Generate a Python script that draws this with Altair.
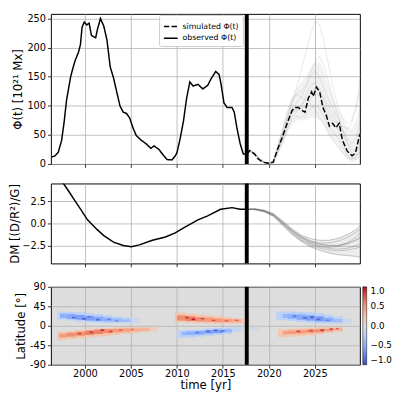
import altair as alt
import pandas as pd

# ---------------- data ----------------
years_ticks = [2000, 2005, 2010, 2015, 2020, 2025]
cut_year = [2017.6]

phi_obs_t = [1996.40, 1996.75, 1997.10, 1997.46, 1997.74, 1997.99, 1998.17, 1998.45, 1998.70, 1998.94,
             1999.30, 1999.51, 1999.69, 1999.93, 2000.21, 2000.46, 2000.71, 2001.17, 2001.34, 2001.69,
             2002.05, 2002.40, 2002.75, 2003.11, 2003.46, 2003.81, 2004.17, 2004.52, 2004.87, 2005.23,
             2005.58, 2006.11, 2006.64, 2007.17, 2007.52, 2008.05, 2008.58, 2008.94, 2009.47, 2009.82,
             2010.00, 2010.35, 2010.71, 2011.06, 2011.41, 2011.77, 2012.29, 2012.82, 2013.35, 2013.70,
             2014.23, 2014.59, 2014.83, 2015.12, 2015.47, 2016.00, 2016.24, 2016.53, 2016.88, 2017.23,
             2017.60]
phi_obs_v = [12, 14, 20, 40, 72, 108, 125, 150, 165, 178,
             192, 205, 235, 244, 239, 242, 221, 217, 230, 250,
             237, 213, 167, 148, 124, 100, 89, 87, 79, 62,
             49, 41, 35, 27, 31, 25, 14, 7.5, 7, 14,
             19, 43, 73, 113, 141, 134, 137, 129, 135, 146,
             159, 154, 135, 105, 97, 97, 89, 62, 35, 17,
             17]

phi_sim_t = [2017.60, 2017.93, 2018.46, 2018.82, 2019.35, 2020.05, 2020.48, 2020.94, 2021.47, 2022.00,
             2022.53, 2022.88, 2023.23, 2023.59, 2023.94, 2024.29, 2024.65, 2024.82, 2025.18, 2025.53,
             2025.88, 2026.24, 2026.59, 2026.94, 2027.30, 2027.65, 2028.00, 2028.53, 2029.06, 2029.42,
             2029.90]
phi_sim_v = [17, 23, 17, 9, 3, 1, 3, 25, 46, 70,
             92, 97, 97, 92, 89, 113, 124, 116, 132, 124,
             97, 84, 65, 70, 62, 70, 41, 22, 14, 19,
             52]

ens_t = [2017.6, 2018.0, 2018.5, 2019.0, 2019.5, 2020.0, 2020.5, 2021.0, 2021.5, 2022.0,
         2022.5, 2023.0, 2023.5, 2024.0, 2024.5, 2025.0, 2025.5, 2026.0, 2026.5, 2027.0,
         2027.5, 2028.0, 2028.5, 2029.0, 2029.5, 2030.0]
phi_ens = {
    "m1": [17, 22, 17, 8, 3, 1, 5, 30, 55, 80, 105, 120, 125, 135, 150, 160, 150, 130, 110, 95, 80, 60, 40, 25, 20, 30],
    "m2": [17, 21, 15, 7, 2, 1, 2, 20, 38, 58, 75, 82, 80, 85, 95, 100, 95, 80, 65, 55, 45, 30, 15, 8, 10, 25],
    "m3": [17, 23, 18, 9, 3, 1, 4, 27, 50, 75, 95, 105, 115, 130, 155, 175, 185, 170, 140, 110, 85, 60, 45, 35, 45, 80],
    "m4": [17, 22, 16, 8, 3, 1, 6, 32, 60, 90, 110, 120, 115, 110, 105, 95, 80, 70, 55, 40, 30, 20, 12, 8, 15, 40],
    "m5": [17, 23, 17, 9, 3, 1, 4, 28, 50, 78, 105, 130, 160, 190, 220, 245, 240, 210, 170, 130, 100, 80, 70, 75, 95, 130],
    "m6": [17, 22, 16, 8, 2, 1, 3, 24, 44, 66, 88, 95, 100, 110, 120, 130, 125, 110, 90, 75, 70, 55, 35, 20, 15, 20],
    "m7": [17, 23, 17, 8, 3, 1, 3, 22, 42, 62, 80, 90, 98, 115, 135, 140, 130, 115, 100, 85, 70, 65, 60, 70, 100, 150],
    "m8": [17, 22, 17, 9, 3, 1, 4, 26, 48, 72, 90, 92, 95, 100, 112, 120, 118, 100, 80, 68, 60, 45, 25, 12, 8, 15],
}
phi_band_lo = [17, 20, 14, 6, 1, 0, 1, 15, 32, 52, 68, 75, 75, 75, 80, 80, 75, 65, 50, 40, 30, 18, 8, 3, 5, 15]
phi_band_hi = [17, 25, 20, 11, 5, 2, 8, 36, 62, 92, 115, 130, 140, 150, 165, 175, 175, 160, 135, 115, 95, 80, 65, 60, 75, 110]

dm_obs_t = [1996.4, 1997.0, 1997.6, 1998.17, 1998.87, 1999.58, 2000.28, 2001.34, 2002.05, 2003.11,
            2004.17, 2005.05, 2005.93, 2007.34, 2008.76, 2009.82, 2010.88, 2012.29, 2013.35, 2014.76,
            2016.0, 2016.88, 2017.6]
dm_obs_v = [6.6, 5.6, 4.6, 3.74, 2.63, 1.52, 0.41, -0.70, -1.37, -2.11,
            -2.48, -2.63, -2.41, -1.89, -1.52, -1.07, -0.41, 0.41, 0.85, 1.59,
            1.78, 1.59, 1.59]

dm_ens_t = [2017.6, 2018.5, 2019.5, 2020.5, 2021.5, 2022.5, 2023.5, 2024.5, 2025.5, 2026.5, 2027.5, 2028.5, 2029.5, 2030.0]
dm_ens = {
    "d0": [1.59, 1.6, 1.4, 0.95, 0.1, -0.8, -1.6, -2.1, -2.35, -2.45, -2.48, -2.26, -1.8, -1.5],
    "d1": [1.59, 1.65, 1.5, 1.1, 0.3, -0.6, -1.3, -1.7, -1.9, -1.9, -1.7, -1.3, -0.7, -0.2],
    "d2": [1.59, 1.55, 1.3, 0.8, -0.2, -1.2, -2.0, -2.6, -3.0, -3.3, -3.5, -3.6, -3.7, -3.8],
    "d3": [1.59, 1.62, 1.45, 1.0, 0.1, -0.8, -1.5, -2.0, -2.2, -2.2, -2.0, -1.6, -1.0, -0.6],
    "d4": [1.59, 1.57, 1.35, 0.9, -0.05, -1.0, -1.8, -2.3, -2.6, -2.8, -2.9, -2.8, -2.5, -2.3],
    "d5": [1.59, 1.6, 1.42, 0.97, 0.0, -0.9, -1.6, -2.2, -2.5, -2.7, -2.6, -2.3, -1.9, -1.6],
    "d6": [1.59, 1.63, 1.48, 1.05, 0.2, -0.7, -1.45, -1.95, -2.3, -2.5, -2.5, -2.2, -1.5, -1.0],
    "d7": [1.59, 1.56, 1.32, 0.85, -0.1, -1.1, -1.9, -2.45, -2.75, -3.0, -3.1, -3.0, -2.8, -2.6],
}
dm_band_lo = [1.59, 1.5, 1.25, 0.75, -0.3, -1.3, -2.1, -2.7, -3.1, -3.4, -3.6, -3.7, -3.8, -3.9]
dm_band_hi = [1.59, 1.7, 1.55, 1.15, 0.35, -0.55, -1.25, -1.65, -1.85, -1.85, -1.6, -1.2, -0.6, -0.1]

# butterfly diagram cells: [t_start, t_end, lat_low, lat_high, value]
halo_cells = [
    # cycle 23, north (negative)
    [1997.0, 1998.0, 14, 33, -0.22], [1998.0, 1999.0, 12, 32, -0.25], [1999.0, 2000.0, 10, 31, -0.25],
    [2000.0, 2001.0, 8, 29, -0.25], [2001.0, 2002.0, 7, 27, -0.25], [2002.0, 2003.0, 6, 25, -0.22],
    [2003.0, 2004.0, 6, 22, -0.2], [2004.0, 2005.0, 6, 20, -0.18], [2005.0, 2006.0, 6, 18, -0.12],
    # cycle 23, south (positive)
    [1997.0, 1998.0, -33, -14, 0.22], [1998.0, 1999.0, -31, -12, 0.25], [1999.0, 2000.0, -29, -10, 0.25],
    [2000.0, 2001.0, -27, -8, 0.25], [2001.0, 2002.0, -25, -6, 0.25], [2002.0, 2003.0, -23, -5, 0.25],
    [2003.0, 2004.0, -21, -4, 0.24], [2004.0, 2005.0, -19, -3, 0.22], [2005.0, 2006.0, -17, -3, 0.2],
    [2006.0, 2007.0, -15, -3, 0.18], [2007.0, 2008.0, -13, -3, 0.15],
    # cycle 24, north (positive)
    [2009.8, 2011.0, 8, 30, 0.24], [2011.0, 2012.0, 7, 28, 0.25], [2012.0, 2013.0, 6, 26, 0.25],
    [2013.0, 2014.0, 5, 24, 0.25], [2014.0, 2015.0, 5, 22, 0.24], [2015.0, 2016.0, 5, 20, 0.22],
    [2016.0, 2017.0, 5, 18, 0.2], [2017.0, 2018.0, 4, 16, 0.15],
    # cycle 24, south (negative)
    [2010.0, 2011.0, -28, -10, -0.22], [2011.0, 2012.0, -27, -9, -0.25], [2012.0, 2013.0, -25, -8, -0.25],
    [2013.0, 2014.0, -23, -6, -0.25], [2014.0, 2015.0, -21, -5, -0.25], [2015.0, 2016.0, -19, -4, -0.22],
    [2016.0, 2017.0, -15, -3, -0.15], [2017.0, 2019.0, -10, -2, -0.1],
    # cycle 25, north (negative)
    [2020.8, 2022.0, 13, 33, -0.22], [2022.0, 2023.0, 11, 33, -0.25], [2023.0, 2024.0, 9, 32, -0.25],
    [2024.0, 2025.0, 7, 31, -0.25], [2025.0, 2026.0, 6, 29, -0.25], [2026.0, 2027.0, 5, 26, -0.22],
    [2027.0, 2028.0, 5, 22, -0.18], [2028.0, 2029.0, 5, 17, -0.12],
    # cycle 25, south (positive)
    [2021.0, 2022.0, -26, -8, 0.22], [2022.0, 2023.0, -25, -7, 0.25], [2023.0, 2024.0, -24, -6, 0.25],
    [2024.0, 2025.0, -22, -5, 0.25], [2025.0, 2026.0, -20, -4, 0.25], [2026.0, 2027.0, -17, -3, 0.22],
    [2027.0, 2028.0, -14, -3, 0.18],
]
core_cells = [
    [1997.3, 1998.0, 18, 28, -0.5], [1998.0, 1999.0, 16, 27, -0.55], [1999.0, 2000.0, 14, 25, -0.6],
    [2000.0, 2001.0, 12, 23, -0.6], [2001.0, 2002.0, 11, 21, -0.55], [2002.0, 2003.0, 10, 19, -0.5],
    [2003.0, 2004.0, 9, 17, -0.45], [2004.0, 2005.0, 9, 15, -0.4],
    [1997.2, 1998.0, -27, -18, 0.5], [1998.0, 1999.0, -25, -16, 0.55], [1999.0, 2000.0, -23, -14, 0.55],
    [2000.0, 2001.0, -21, -11, 0.6], [2001.0, 2002.0, -19, -9, 0.6], [2002.0, 2003.0, -17, -8, 0.55],
    [2003.0, 2004.0, -15, -7, 0.5], [2004.0, 2005.0, -14, -6, 0.45], [2005.0, 2006.0, -13, -6, 0.4],
    [2006.0, 2007.0, -12, -5, 0.35],
    [2010.0, 2011.0, 12, 24, 0.55], [2011.0, 2012.0, 11, 22, 0.6], [2012.0, 2013.0, 10, 20, 0.55],
    [2013.0, 2014.0, 9, 19, 0.5], [2014.0, 2015.0, 8, 17, 0.5], [2015.0, 2016.0, 8, 16, 0.45],
    [2016.0, 2017.0, 8, 15, 0.4],
    [2010.5, 2011.0, -22, -14, -0.45], [2011.0, 2012.0, -21, -13, -0.5], [2012.0, 2013.0, -20, -12, -0.55],
    [2013.0, 2014.0, -18, -10, -0.6], [2014.0, 2015.0, -17, -9, -0.6], [2015.0, 2016.0, -15, -8, -0.45],
    [2021.5, 2022.0, 18, 27, -0.45], [2022.0, 2023.0, 16, 27, -0.5], [2023.0, 2024.0, 14, 26, -0.55],
    [2024.0, 2025.0, 12, 24, -0.6], [2025.0, 2026.0, 10, 22, -0.6], [2026.0, 2027.0, 9, 19, -0.5],
    [2027.0, 2028.0, 8, 16, -0.4],
    [2021.5, 2022.0, -20, -12, 0.45], [2022.0, 2023.0, -19, -11, 0.5], [2023.0, 2024.0, -18, -10, 0.5],
    [2024.0, 2025.0, -16, -9, 0.55], [2025.0, 2026.0, -15, -8, 0.55], [2026.0, 2027.0, -13, -7, 0.5],
    [2027.0, 2028.0, -11, -6, 0.4],
]
spot_cells = [
    [1998.6, 1999.0, 17, 21, -0.85], [1999.7, 2000.1, 14, 18, -0.9], [2000.3, 2000.6, 19, 23, -0.8],
    [2001.2, 2001.6, 12, 16, -0.85], [2002.4, 2002.8, 13, 16, -0.75], [2003.3, 2003.6, 10, 13, -0.7],
    [1999.2, 1999.6, -20, -16, 0.8], [2000.5, 2000.9, -17, -13, 0.85], [2001.7, 2002.1, -12, -8, 0.9],
    [2002.6, 2003.0, -15, -11, 0.8], [2003.7, 2004.1, -11, -8, 0.75], [2005.0, 2005.3, -10, -7, 0.7],
    [2010.9, 2011.3, 17, 21, 0.85], [2011.6, 2012.0, 13, 17, 0.95], [2012.6, 2013.0, 15, 18, 0.8],
    [2013.8, 2014.2, 11, 14, 0.8], [2015.2, 2015.6, 10, 13, 0.75], [2016.3, 2016.7, 11, 14, 0.7],
    [2012.0, 2012.4, -18, -14, -0.75], [2013.2, 2013.6, -15, -11, -0.85], [2014.0, 2014.4, -12, -9, -0.95],
    [2014.8, 2015.2, -14, -10, -0.8],
    [2022.6, 2023.0, 20, 24, -0.8], [2023.7, 2024.1, 16, 20, -0.85], [2024.5, 2024.9, 18, 22, -0.9],
    [2025.2, 2025.6, 13, 17, -0.85], [2026.2, 2026.6, 11, 14, -0.75],
    [2023.0, 2023.4, -15, -11, 0.8], [2024.4, 2024.8, -13, -9, 0.8], [2025.6, 2026.0, -12, -8, 0.85],
    [2026.6, 2027.0, -9, -6, 0.85], [2027.3, 2027.6, -8, -5, 0.75],
]

cw_domain = [-1, -0.75, -0.5, -0.25, 0, 0.25, 0.5, 0.75, 1]
cw_colors = ["#3b4cc0", "#6282ea", "#8db0fe", "#b9d0f9", "#dddddd", "#f5c4ac", "#f49a7b", "#dc5d4a", "#b40426"]
cbar_ticks = [-1.0, -0.5, 0.0, 0.5, 1.0]
lat_ticks = [-90, -45, 0, 45, 90]
phi_ticks = [0, 50, 100, 150, 200, 250]
dm_ticks = [-2.5, 0.0, 2.5]

# ---------------- frames ----------------
phi_obs_df = pd.DataFrame({"t": phi_obs_t, "v": phi_obs_v, "kind": "observed Φ(t)"})
phi_sim_df = pd.DataFrame({"t": phi_sim_t, "v": phi_sim_v, "kind": "simulated Φ(t)"})
phi_ens_df = pd.concat([pd.DataFrame({"t": ens_t, "v": vals, "m": k}) for k, vals in phi_ens.items()])
phi_band_df = pd.DataFrame({"t": ens_t, "lo": phi_band_lo, "hi": phi_band_hi})
dm_obs_df = pd.DataFrame({"t": dm_obs_t, "v": dm_obs_v})
dm_ens_df = pd.concat([pd.DataFrame({"t": dm_ens_t, "v": vals, "m": k}) for k, vals in dm_ens.items()])
dm_band_df = pd.DataFrame({"t": dm_ens_t, "lo": dm_band_lo, "hi": dm_band_hi})
cols = ["t0", "t1", "l0", "l1", "v"]
halo_df = pd.DataFrame(halo_cells, columns=cols)
core_df = pd.DataFrame(core_cells, columns=cols)
spot_df = pd.DataFrame(spot_cells, columns=cols)
cut_df = pd.DataFrame({"t": cut_year})

# ---------------- chart ----------------
X_DOM = [1996.3, 2029.9]
W = 317
H_TOP, H_MID, H_BOT = 154, 82, 80
xs = alt.Scale(domain=X_DOM, nice=False, zero=False)


def xenc(field, labels=False):
    if labels:
        ax = alt.Axis(values=years_ticks, format="d", title="time [yr]", grid=True,
                      labelPadding=1, titlePadding=1)
    else:
        ax = alt.Axis(values=years_ticks, labels=False, title=None, grid=True, minExtent=0)
    return alt.X(field, type="quantitative", scale=xs, axis=ax)


def cut_bar(h, labels=False):
    return alt.Chart(cut_df).mark_tick(color="black", thickness=4, size=h, orient="vertical",
                                       opacity=1).encode(x=xenc("t", labels))


# top panel
ys_top = alt.Scale(domain=[0, 258], nice=False, zero=False)
ax_top = alt.Axis(values=phi_ticks, title="Φ(t) [10²¹ Mx]", grid=True, titlePadding=3)
dash_scale = alt.Scale(domain=["simulated Φ(t)", "observed Φ(t)"], range=[[5.5, 2.4], [1, 0]])
dash_legend = alt.Legend(title=None, orient="none", legendX=111, legendY=1, symbolType="stroke",
                         symbolSize=200, symbolStrokeWidth=1.5, labelFontSize=8, padding=4,
                         fillColor="rgba(255,255,255,0.85)", strokeColor="#cccccc", cornerRadius=2,
                         rowPadding=0)

t_band = alt.Chart(phi_band_df).mark_area(color="#888888", opacity=0.11, clip=True).encode(
    x=xenc("t"), y=alt.Y("lo:Q", scale=ys_top, axis=ax_top), y2="hi:Q")
t_ens = alt.Chart(phi_ens_df).mark_line(color="#808080", opacity=0.22, strokeWidth=0.8, clip=True).encode(
    x=xenc("t"), y=alt.Y("v:Q", scale=ys_top, axis=ax_top), detail="m:N")
t_sim = alt.Chart(phi_sim_df).mark_line(color="black", strokeWidth=1.5, clip=True).encode(
    x=xenc("t"), y=alt.Y("v:Q", scale=ys_top, axis=ax_top),
    strokeDash=alt.StrokeDash("kind:N", scale=dash_scale, legend=dash_legend))
t_obs = alt.Chart(phi_obs_df).mark_line(color="black", strokeWidth=1.5, clip=True).encode(
    x=xenc("t"), y=alt.Y("v:Q", scale=ys_top, axis=ax_top),
    strokeDash=alt.StrokeDash("kind:N", scale=dash_scale, legend=dash_legend))
top = alt.layer(t_band, t_ens, t_sim, t_obs, cut_bar(H_TOP)).properties(width=W, height=H_TOP)

# middle panel
ys_mid = alt.Scale(domain=[-4.5, 4.5], nice=False, zero=False)
ax_mid = alt.Axis(values=dm_ticks, format=".1f", title="DM [(D/R²)/G]", grid=True, titlePadding=0)
m_band = alt.Chart(dm_band_df).mark_area(color="#888888", opacity=0.15, clip=True).encode(
    x=xenc("t"), y=alt.Y("lo:Q", scale=ys_mid, axis=ax_mid), y2="hi:Q")
m_ens = alt.Chart(dm_ens_df).mark_line(color="#666666", opacity=0.4, strokeWidth=0.8, clip=True).encode(
    x=xenc("t"), y=alt.Y("v:Q", scale=ys_mid, axis=ax_mid), detail="m:N")
m_obs = alt.Chart(dm_obs_df).mark_line(color="black", strokeWidth=1.5, clip=True).encode(
    x=xenc("t"), y=alt.Y("v:Q", scale=ys_mid, axis=ax_mid))
mid = alt.layer(m_band, m_ens, m_obs, cut_bar(H_MID)).properties(width=W, height=H_MID)

# bottom panel
ys_bot = alt.Scale(domain=[-90, 90], nice=False, zero=False)
ax_bot = alt.Axis(values=lat_ticks, format="d", title="Latitude [°]", grid=True, titlePadding=2,
                  labelExpr="replace(datum.label, '−', '-')")
cscale = alt.Scale(domain=cw_domain, range=cw_colors, interpolate="rgb")
cleg = alt.Legend(title=None, orient="right", offset=3, gradientLength=H_BOT, gradientThickness=4,
                  values=cbar_ticks, format=".1f", labelFontSize=9, labelOffset=4,
                  gradientStrokeColor="black", gradientStrokeWidth=0.5, direction="vertical")


def cells(df):
    return alt.Chart(df).mark_rect().encode(
        x=xenc("t0", True), x2="t1", y=alt.Y("l0:Q", scale=ys_bot, axis=ax_bot), y2="l1:Q",
        color=alt.Color("v:Q", scale=cscale, legend=cleg))


bot = alt.layer(cells(halo_df), cells(core_df), cells(spot_df), cut_bar(H_BOT, True)).properties(
    width=W, height=H_BOT, view=alt.ViewBackground(fill="#dddddd", stroke="black"))

chart = alt.vconcat(top, mid, bot, spacing=13).resolve_scale(
    color="independent", strokeDash="independent").resolve_legend(
    color="independent", strokeDash="independent").properties(
    padding={"left": 0, "top": 0, "right": 0, "bottom": 0}
).configure_axis(
    labelFont="DejaVu Sans", labelFontSize=10, labelColor="black", labelPadding=2,
    titleFont="DejaVu Sans", titleFontSize=12, titleFontWeight="normal", titleColor="black",
    tickColor="black", tickSize=3.5, tickWidth=0.8, domain=False,
    gridColor="#b0b0b0", gridWidth=0.8
).configure_view(stroke="black", strokeWidth=1).configure_legend(
    labelFont="DejaVu Sans", labelColor="black"
)

chart.save("out.html", embed_options={"renderer": "svg", "actions": False})
